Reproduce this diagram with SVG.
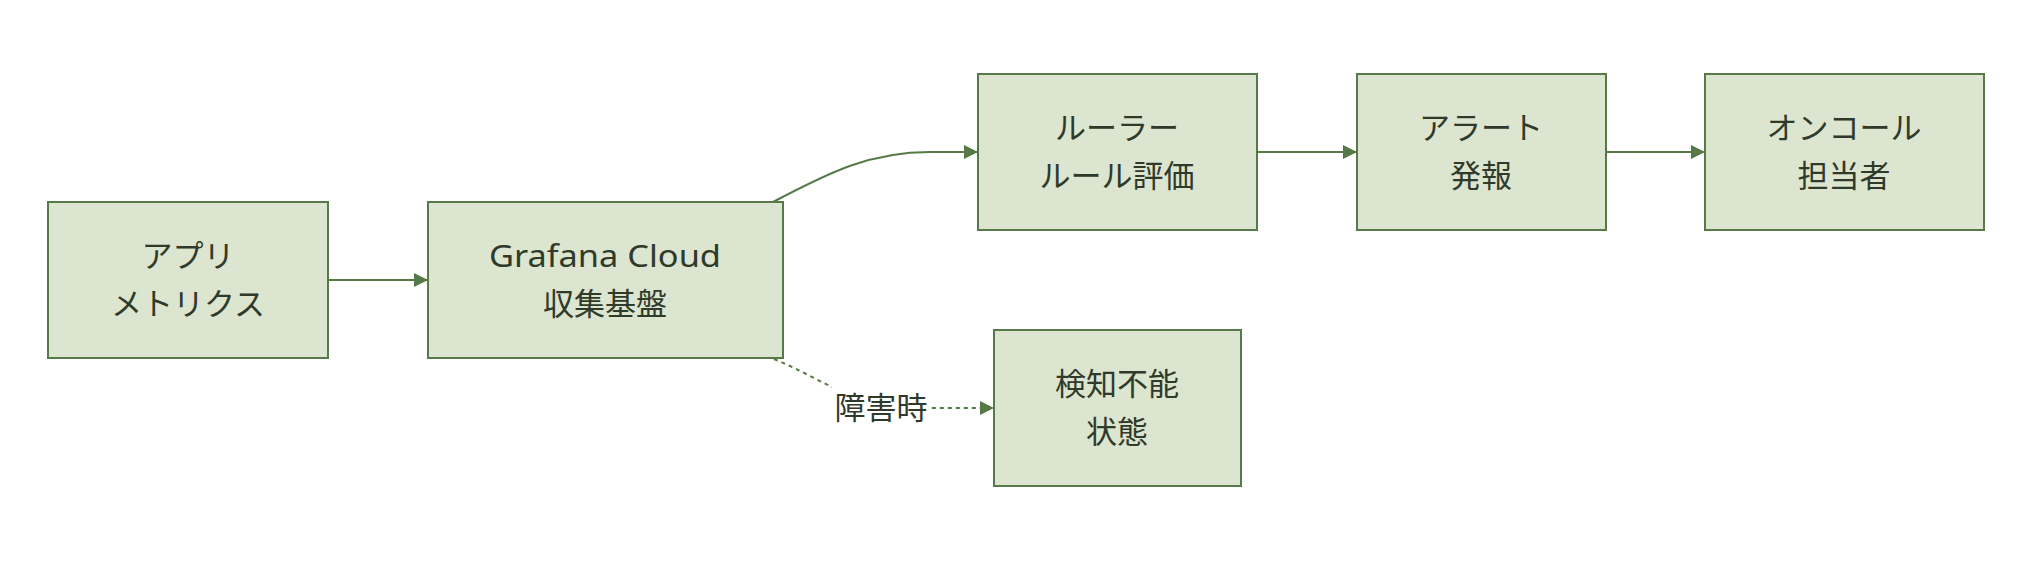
<svg xmlns="http://www.w3.org/2000/svg" width="2032" height="564" viewBox="0 0 2032 564">
<style>
.node rect{fill:#dce5cf;stroke:#567a47;stroke-width:2}
.node text{font-family:"Noto Sans CJK JP","Noto Sans",sans-serif;font-size:31px;fill:#2f3a2a;text-anchor:middle}
.node text.latin{font-family:"Noto Sans","Noto Sans CJK JP",sans-serif}
.edge{fill:none;stroke:#567a47;stroke-width:2}
.dotted{stroke-dasharray:4 4}
.lbl{font-family:"Noto Sans CJK JP","Noto Sans",sans-serif;font-size:31px;fill:#2f3a2a;text-anchor:middle}
</style>
<defs>
<marker id="arr" viewBox="0 0 14 14" refX="14" refY="7" markerWidth="14" markerHeight="14" markerUnits="userSpaceOnUse" orient="auto">
<path d="M0,0 L14,7 L0,14 Z" fill="#567a47"/>
</marker>
</defs>
<rect width="2032" height="564" fill="#ffffff"/>
<g id="connectors">
<path class="edge" d="M328,280 L428,280" marker-end="url(#arr)"/>
<path class="edge" d="M773,202 C830,172 870,152 930,152 L978,152" marker-end="url(#arr)"/>
<path class="edge" d="M1257,152 L1357,152" marker-end="url(#arr)"/>
<path class="edge" d="M1606,152 L1705,152" marker-end="url(#arr)"/>
<path class="edge dotted" d="M774,359 C820,378 860,408 900,408 L994,408" marker-end="url(#arr)"/>
<rect x="832" y="386" width="98" height="44" fill="#ffffff"/>
<text class="lbl" x="881" y="419">障害時</text>
</g>
<g id="app" class="node">
<rect x="48" y="202" width="280" height="156"/>
<text x="188" y="267">アプリ</text>
<text x="188" y="315">メトリクス</text>
</g>
<g id="grafana" class="node">
<rect x="428" y="202" width="355" height="156"/>
<text class="latin" x="605" y="267" textLength="232" lengthAdjust="spacingAndGlyphs">Grafana Cloud</text>
<text x="605" y="315">収集基盤</text>
</g>
<g id="ruler" class="node">
<rect x="978" y="74" width="279" height="156"/>
<text x="1117" y="139">ルーラー</text>
<text x="1117" y="187">ルール評価</text>
</g>
<g id="alert" class="node">
<rect x="1357" y="74" width="249" height="156"/>
<text x="1481" y="139">アラート</text>
<text x="1481" y="187">発報</text>
</g>
<g id="oncall" class="node">
<rect x="1705" y="74" width="279" height="156"/>
<text x="1844" y="139">オンコール</text>
<text x="1844" y="187">担当者</text>
</g>
<g id="blind" class="node">
<rect x="994" y="330" width="247" height="156"/>
<text x="1117" y="395">検知不能</text>
<text x="1117" y="443">状態</text>
</g>
</svg>
